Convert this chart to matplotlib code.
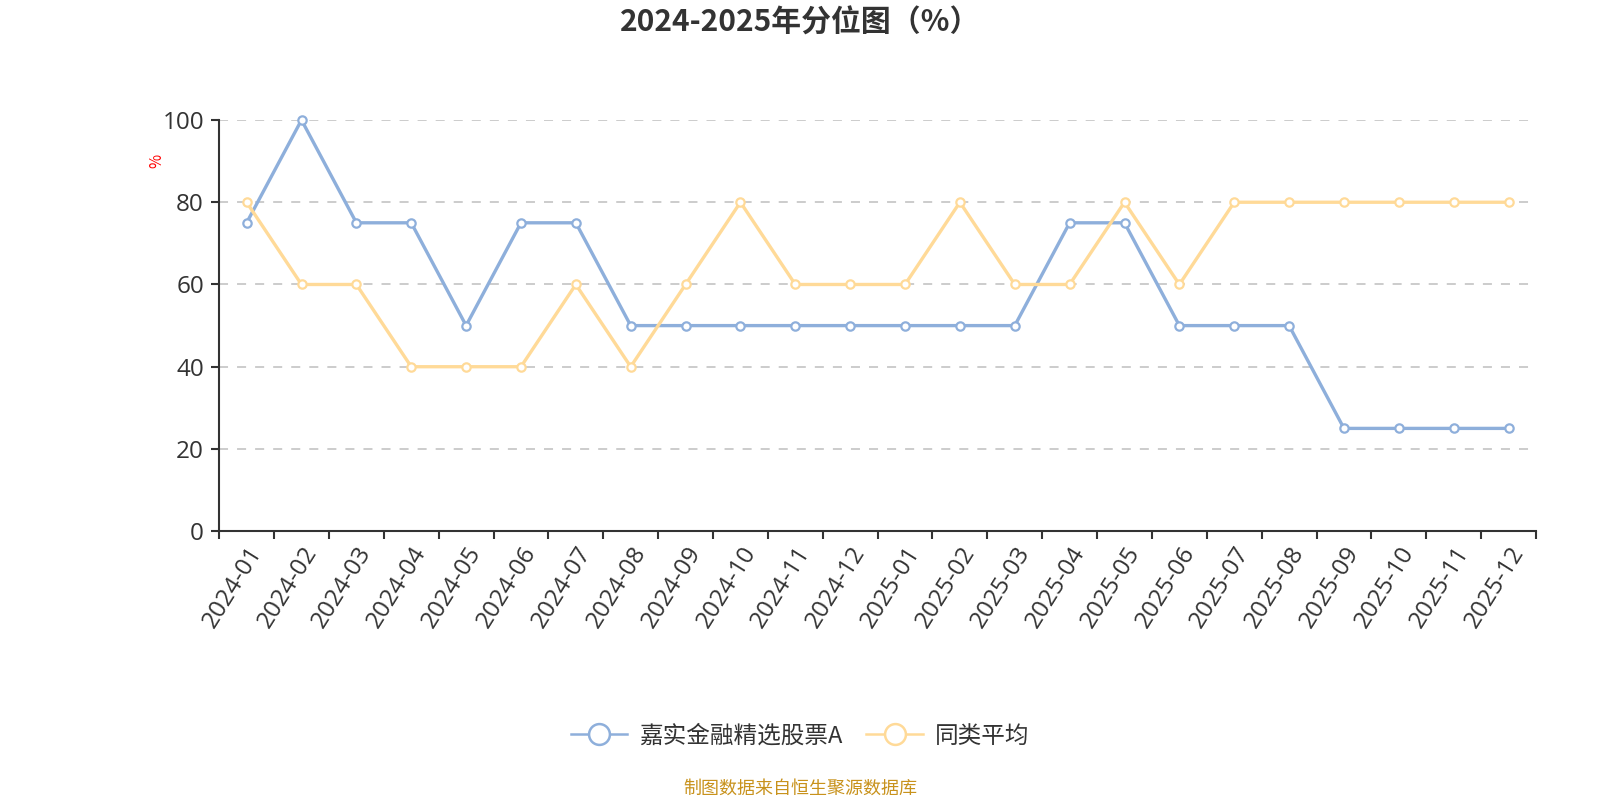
import matplotlib
matplotlib.use("Agg")
import matplotlib.pyplot as plt
from matplotlib.lines import Line2D

plt.rcParams['font.family'] = ['Noto Sans CJK SC', 'DejaVu Sans']

# Data
months = ['2024-01', '2024-02', '2024-03', '2024-04', '2024-05', '2024-06',
          '2024-07', '2024-08', '2024-09', '2024-10', '2024-11', '2024-12',
          '2025-01', '2025-02', '2025-03', '2025-04', '2025-05', '2025-06',
          '2025-07', '2025-08', '2025-09', '2025-10', '2025-11', '2025-12']
fund = [75, 100, 75, 75, 50, 75, 75, 50, 50, 50, 50, 50,
        50, 50, 50, 75, 75, 50, 50, 50, 25, 25, 25, 25]
peer_avg = [80, 60, 60, 40, 40, 40, 60, 40, 60, 80, 60, 60,
            60, 80, 60, 60, 80, 60, 80, 80, 80, 80, 80, 80]
series_names = ['嘉实金融精选股票A', '同类平均']
yticks = [0, 20, 40, 60, 80, 100]

blue = '#8EAFDB'
yellow = '#FFDA98'
dark = '#333333'
num_font = ['Open Sans', 'DejaVu Sans']

fig = plt.figure(figsize=(16, 8), dpi=100)
ax = fig.add_axes([0.137, 0.336, 0.823, 0.514])

x = list(range(len(months)))
ax.plot(x, fund, color=blue, lw=2.4, marker='o', ms=6, mfc='white',
        mec=blue, mew=1.6, clip_on=False, zorder=3)
ax.plot(x, peer_avg, color=yellow, lw=2.4, marker='o', ms=6, mfc='white',
        mec=yellow, mew=1.6, clip_on=False, zorder=3)

ax.set_xlim(-0.5, len(months) - 0.5)
ax.set_ylim(0, 100)
ax.set_yticks(yticks)
ax.set_yticklabels([str(v) for v in yticks], fontsize=17.5, color=dark,
                   family=num_font)
ax.set_xticks([i - 0.5 for i in range(len(months) + 1)])
ax.set_xticklabels([])
ax.set_xticks(x, minor=True)
ax.set_xticklabels(months, minor=True, rotation=58, ha='right',
                   rotation_mode='anchor', fontsize=17.5, color=dark,
                   family=num_font)
ax.tick_params(axis='x', which='minor', length=0, pad=8)
ax.tick_params(axis='x', which='major', length=6, width=1.5, color=dark)
ax.tick_params(axis='y', length=6, width=1.5, color=dark, pad=5)

for v in yticks[1:]:
    ax.axhline(v, color='#C8C8C8', lw=1.3, ls=(0, (5, 5)), zorder=1)

for s in ['top', 'right']:
    ax.spines[s].set_visible(False)
for s in ['left', 'bottom']:
    ax.spines[s].set_color(dark)
    ax.spines[s].set_linewidth(1.5)

ax.text(-0.047, 0.9, '%', transform=ax.transAxes, rotation=90, color='red',
        fontsize=11, ha='center', va='center')

fig.text(0.5, 0.972, '2024-2025年分位图（%）', ha='center', va='center',
         fontsize=21.5, fontweight='bold', color=dark)

handles = [Line2D([0], [0], color=blue, lw=1.8, marker='o', ms=15, mfc='white',
                  mec=blue, mew=1.8),
           Line2D([0], [0], color=yellow, lw=1.8, marker='o', ms=15, mfc='white',
                  mec=yellow, mew=1.8)]
fig.legend(handles, series_names, loc='center', bbox_to_anchor=(0.5, 0.08),
           ncol=2, frameon=False, fontsize=17, handlelength=2.4,
           columnspacing=1.0, handletextpad=0.5, labelcolor=dark)

fig.text(0.5, 0.014, '制图数据来自恒生聚源数据库', ha='center', va='center',
         fontsize=13, color='#C8921C')

fig.savefig('out.png', dpi=100, facecolor='white')
